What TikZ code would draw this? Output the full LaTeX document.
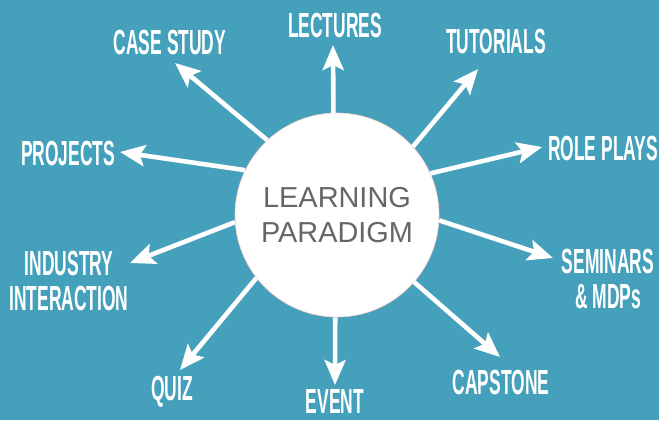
\documentclass[tikz,border=0pt]{standalone}
\usepackage{fontspec}
\setmainfont{Liberation Sans}
\newfontfamily\topicfont[FakeStretch=0.5]{Liberation Sans}
\usetikzlibrary{arrows.meta}
\definecolor{paradigmbg}{HTML}{45A1BB}
\definecolor{paradigmgray}{HTML}{666666}

\begin{document}
\begin{tikzpicture}[x=1bp,y=1bp,
    topic/.style={text=white,align=center,inner sep=0pt,
      font=\topicfont\bfseries\fontsize{35}{35}\selectfont},
    spoke/.style={draw=white,line width=4.6bp,
      -{Stealth[length=25bp,width=21bp,inset=5bp]}}]
            \fill[paradigmbg] (0,0) rectangle (659,420);
            \node[circle,fill=white,draw=red!20,line width=0.6bp,minimum size=204bp,inner sep=0pt,
            align=center,text=paradigmgray,font=\fontsize{29}{35}\selectfont] (paradigm) at (337,205) {LEARNING\\PARADIGM};
            % the topics round the circle
            \node[topic] (lectures) at (335,395) {LECTURES};
            \node[topic] (casestudy) at (170,378) {CASE STUDY};
            \node[topic] (tutorials) at (496,379) {TUTORIALS};
            \node[topic] (projects) at (68,267) {PROJECTS};
            \node[topic] (roleplays) at (603,272) {ROLE PLAYS};
            \node[topic] (industry) at (69,139) {INDUSTRY\\INTERACTION};
            \node[topic] (seminars) at (608,141) {SEMINARS\\\& MDPs};
            \node[topic] (quiz) at (172,28) {QUIZ};
            \node[topic] (event) at (335,18.5) {EVENT};
            \node[topic] (capstone) at (501,38) {CAPSTONE};
            % where the arrow tips stop
            \coordinate (lecturesend) at (333,375);
            \coordinate (casestudyend) at (175,357);
            \coordinate (tutorialsend) at (478,351);
            \coordinate (projectsend) at (120,268);
            \coordinate (roleplaysend) at (542,273);
            \coordinate (industryend) at (130,157);
            \coordinate (seminarsend) at (553,162);
            \coordinate (quizend) at (180,50);
            \coordinate (eventend) at (335,35);
            \coordinate (capstoneend) at (500,63);
            \draw[spoke] (paradigm.92) -- (lecturesend);
            \draw[spoke] (paradigm.133) -- (casestudyend);
            \draw[spoke] (paradigm.42) -- (tutorialsend);
            \draw[spoke] (paradigm.154) -- (projectsend);
            \draw[spoke] (paradigm.24) -- (roleplaysend);
            \draw[spoke] (paradigm.184) -- (industryend);
            \draw[spoke] (paradigm.357) -- (seminarsend);
            \draw[spoke] (paradigm.218) -- (quizend);
            \draw[spoke] (paradigm.269) -- (eventend);
            \draw[spoke] (paradigm.319) -- (capstoneend);
        \end{tikzpicture}
\end{document}
